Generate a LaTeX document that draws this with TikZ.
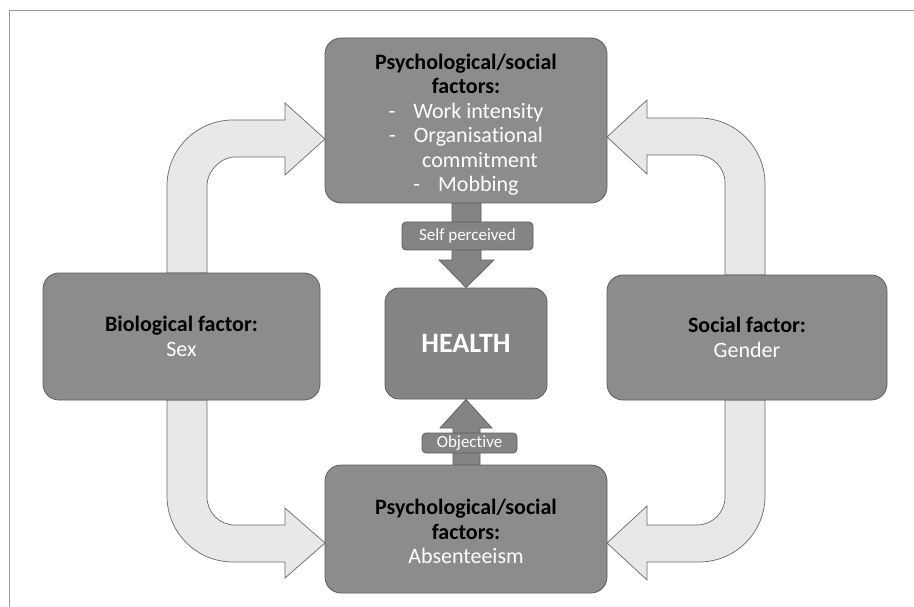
\documentclass[tikz,border=0pt]{standalone}
\usepackage{fontspec}
\setmainfont[Ligatures=CommonOff]{Carlito}
\definecolor{boxgray}{HTML}{8C8C8C}
\definecolor{healthgray}{HTML}{848484}
\definecolor{edgegray}{HTML}{5E5E5E}
\definecolor{arrowfill}{HTML}{E8E8E8}
\definecolor{arrowedge}{HTML}{6A6A6A}
\definecolor{framegray}{HTML}{9A9A9A}
\tikzset{
  factorbox/.style={draw=edgegray, fill=boxgray, line width=0.8pt, rounded corners=16pt,
    align=center, inner sep=0pt, font=\fontsize{22}{24.5}\selectfont},
  boxtext/.style={align=center, inner sep=0pt, font=\fontsize{22}{24.5}\selectfont},
  healthbox/.style={draw=edgegray, fill=healthgray, line width=0.8pt, rounded corners=14pt,
    align=center, inner sep=0pt, text=white, font=\fontsize{28}{32}\selectfont\bfseries},
  tagbox/.style={draw=edgegray, fill=healthgray, line width=0.8pt, rounded corners=4pt,
    inner sep=0pt, text=white, font=\fontsize{17}{19}\selectfont},
  bentarrow/.style={draw=arrowedge, fill=arrowfill, line width=0.7pt, line join=miter},
  blockarrow/.style={draw=edgegray, fill=healthgray, line width=0.7pt},
}
\newcommand{\hd}[1]{\textbf{#1}}
\newcommand{\vl}[1]{\textcolor{white}{#1}}
\begin{document}
\begin{tikzpicture}[x=1pt,y=-1pt]
\useasboundingbox (0,0) rectangle (914,607);
\fill[white] (0,0) rectangle (914,607);
% frame
\draw[framegray, line width=1pt] (9,607) -- (9,11) -- (914,11);

% bent arrows
\draw[bentarrow] (167,273) -- (167,186) .. controls (167,149.5) and (196.5,120) .. (233,120)
  -- (285,120) -- (285,103) -- (325,139) -- (285,175) -- (285,157) -- (235,157)
  .. controls (219.5,157) and (207,172.5) .. (207,185) -- (207,273) -- cycle;
\draw[bentarrow] (167,400) -- (167,496) .. controls (167,532.5) and (196.5,562) .. (233,562)
  -- (285,562) -- (285,578) -- (325,543) -- (285,508) -- (285,525) -- (235,525)
  .. controls (219.5,525) and (207,512.5) .. (207,497) -- (207,400) -- cycle;
\draw[bentarrow] (765,275) -- (765,184) .. controls (765,147.5) and (735.5,118) .. (699,118)
  -- (647,118) -- (647,100) -- (607,137) -- (647,174) -- (647,155) -- (697,155)
  .. controls (712.5,155) and (725,167.5) .. (725,183) -- (725,275) -- cycle;
\draw[bentarrow] (765,400) -- (765,496) .. controls (765,532.5) and (735.5,562) .. (699,562)
  -- (647,562) -- (647,580) -- (607,543) -- (647,506) -- (647,525) -- (697,525)
  .. controls (712.5,525) and (725,512.5) .. (725,497) -- (725,400) -- cycle;

% boxes
\node[factorbox, minimum width=282pt, minimum height=165pt] (top) at (466,120.5) {};
\node[boxtext] (toptext) at ([yshift=-4pt]top.center)
  {\hd{Psychological/social}\\ \hd{factors:}\\
   \vl{-\hspace{18pt}Work intensity}\\
   \vl{-\hspace{18pt}Organisational}\\
   \vl{\hspace*{28pt}commitment}\\
   \vl{-\hspace{18pt}Mobbing}};
\node[healthbox, minimum width=162pt, minimum height=111pt] (health) at (466,343.5) {HEALTH};
\node[factorbox, minimum width=282pt, minimum height=128pt] (bottom) at (466,529) {};
\node[boxtext] (bottomtext) at ([yshift=-2.5pt]bottom.center)
  {\hd{Psychological/social}\\ \hd{factors:}\\ \vl{Absenteeism}};
\node[factorbox, minimum width=277pt, minimum height=127pt] (left) at (181.5,336.5)
  {\hd{Biological factor:}\\ \vl{Sex}};
\node[factorbox, minimum width=280pt, minimum height=125pt] (right) at (747,337.5)
  {\hd{Social factor:}\\ \vl{Gender}};

% central block arrows
\draw[blockarrow] (top.south -| 452,0) -- (452,260) -- (439,260) -- (health.north)
  -- (494,260) -- (481,260) -- (top.south -| 481,0) -- cycle;
\draw[blockarrow] (bottom.north -| 453,0) -- (453,428) -- (440,428) -- (health.south)
  -- (492,428) -- (480,428) -- (bottom.north -| 480,0) -- cycle;

% tags
\node[tagbox, minimum width=131pt, minimum height=28pt] (selfp) at (467.5,236) {Self perceived};
\node[tagbox, minimum width=95pt, minimum height=20pt] (objective) at (469.5,443) {Objective};
\end{tikzpicture}
\end{document}
